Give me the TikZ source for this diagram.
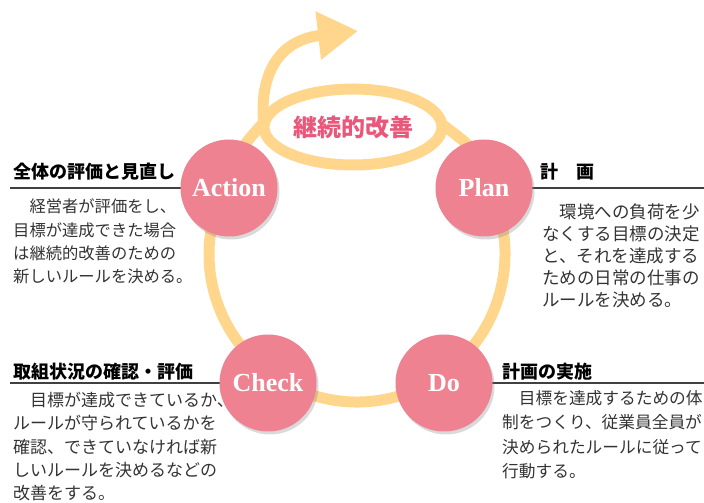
\documentclass[tikz,border=0pt]{standalone}
\usepackage{fontspec}
\setmainfont{Liberation Serif}
\newfontfamily\jpfont{Noto Sans CJK JP}
\usetikzlibrary{arrows.meta,shadows}

\definecolor{loopcol}{RGB}{255,214,140}
\definecolor{stepcol}{RGB}{239,130,145}
\definecolor{kaizencol}{RGB}{232,88,122}

\tikzset{
  pdca/.style={circle,fill=stepcol,minimum size=97pt,inner sep=0pt,text=white,
    font=\fontsize{26}{26}\selectfont\bfseries,
    drop shadow={shadow xshift=2pt,shadow yshift=-3pt,opacity=0.3}},
  loopline/.style={loopcol,line width=11pt},
  heading/.style={anchor=base west,inner sep=0pt,font=\jpfont\bfseries\fontsize{18}{18}\selectfont},
  body/.style={anchor=north west,inner sep=0pt,align=left,text=black!80},
  rule/.style={black!75,line width=1.5pt}
}

\begin{document}
\begin{tikzpicture}[x=1pt,y=1pt]
\useasboundingbox (0,0) rectangle (704,503);

% centres of the four steps
\coordinate (c-action) at (229,315);
\coordinate (c-plan) at (484,315);
\coordinate (c-check) at (268,120);
\coordinate (c-do) at (444,120);

% big loop
\draw[loopline] (357,249) ++(26.5:148) arc[start angle=26.5,end angle=-206.5,radius=148];
\coordinate (e-left) at (265,382);
\coordinate (e-right) at (443,378);
\coordinate (tip) at (358,472);
\draw[loopline] (c-plan) .. controls (480,350) .. (e-right);
\draw[loopline] (c-action) .. controls (238,352) .. (e-left);
\draw[loopline] (353,376) ellipse[x radius=89,y radius=38];
\draw[loopline,-{Triangle[length=40pt,width=46pt]}] (264,376)
  .. controls (258,430) and (280,463) .. (tip);
\node[text=kaizencol,font=\jpfont\bfseries\fontsize{24}{24}\selectfont] (kaizen) at (353,376) {継続的改善};

% rules under the headings
\coordinate (r-action) at (10,315);
\coordinate (r-plan) at (704,315);
\coordinate (r-check) at (10,120);
\coordinate (r-do) at (704,120);
\draw[rule] (c-action) -- (r-action);
\draw[rule] (c-plan) -- (r-plan);
\draw[rule] (c-check) -- (r-check);
\draw[rule] (c-do) -- (r-do);

% headings
\node[heading] (h-action) at (13,324) {全体の評価と見直し};
\node[heading] (h-plan) at (540,324) {計　画};
\node[heading] (h-check) at (13,124) {取組状況の確認・評価};
\node[heading] (h-do) at (502,124) {計画の実施};

% texts
\node[body,font=\jpfont\fontsize{16.3}{23.3}\selectfont] (t-action) at (13,304)
  {　経営者が評価をし、\\目標が達成できた場合\\は継続的改善のための\\新しいルールを決める。};
\node[body,font=\jpfont\fontsize{17.5}{22}\selectfont] (t-plan) at (542,299)
  {　環境への負荷を少\\なくする目標の決定\\と、それを達成する\\ための日常の仕事の\\ルールを決める。};
\node[body,font=\jpfont\fontsize{17}{23.3}\selectfont] (t-check) at (13,111)
  {　目標が達成できているか、\\ルールが守られているかを\\確認、できていなければ新\\しいルールを決めるなどの\\改善をする。};
\node[body,font=\jpfont\fontsize{16.7}{24.5}\selectfont] (t-do) at (502,113)
  {　目標を達成するための体\\制をつくり、従業員全員が\\決められたルールに従って\\行動する。};

% the four steps
\node[pdca] (action) at (c-action) {Action};
\node[pdca] (plan) at (c-plan) {Plan};
\node[pdca] (check) at (c-check) {Check};
\node[pdca] (do) at (c-do) {Do};
\end{tikzpicture}
\end{document}
